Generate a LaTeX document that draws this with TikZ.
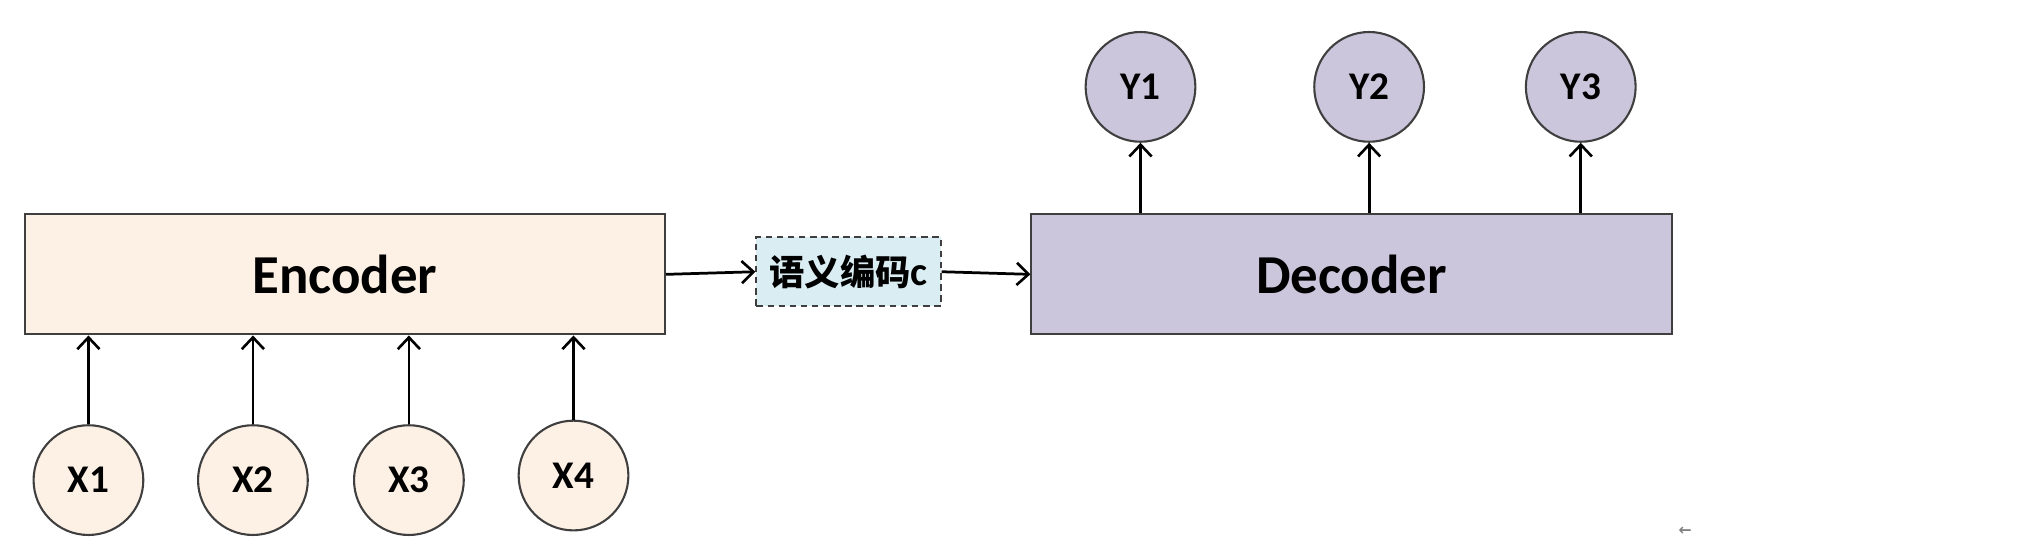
\documentclass[tikz,border=0pt]{standalone}
\usepackage{fontspec}
\setmainfont{Carlito}
\newfontfamily\cjk{Noto Sans CJK SC}
\newfontfamily\sym{DejaVu Sans}
\usepackage{tikz}
\usetikzlibrary{arrows.meta,positioning}
\definecolor{encfill}{HTML}{FDF0E5}
\definecolor{decfill}{HTML}{CCC6DC}
\definecolor{codefill}{HTML}{DAEDF2}
\definecolor{edge}{HTML}{3F3F3F}
\tikzset{
  basic/.style  = {draw=edge, line width=1.6pt, font=\bfseries, inner sep=0pt},
  block/.style  = {basic, rectangle, minimum width=490pt, minimum height=92pt,
                   font=\bfseries\fontsize{42}{44}\selectfont},
  encbox/.style = {block, fill=encfill},
  decbox/.style = {block, fill=decfill},
  codebox/.style = {basic, rectangle, dashed, dash pattern=on 5pt off 3.5pt,
                   fill=codefill, minimum width=141pt, minimum height=53pt,
                   font=\bfseries\fontsize{27}{29}\selectfont},
  token/.style  = {basic, circle, minimum size=84pt,
                   font=\bfseries\fontsize{30}{32}\selectfont},
  input/.style  = {token, fill=encfill},
  output/.style = {token, fill=decfill}
}

\begin{document}
\begin{tikzpicture}[x=1pt,y=-1pt,>={Straight Barb[length=9pt,width=17pt,line width=2pt]},
  link/.style={->,line width=2.1pt,black}]

\useasboundingbox (0,0) rectangle (1560,420);

% encoder side
\node[encbox] (enc) at (264,210) {Encoder};
\node[input] (x1) at (67.7,367.5) {X1};
\node[input] (x2) at (193.6,367.5) {X2};
\node[input] (x3) at (313,367.5) {X3};
\node[input] (x4) at (439,364) {X4};

% semantic code
\node[codebox] (code) at (649.5,208) {{\cjk 语义编码}{\fontsize{31}{31}\selectfont c}};

% decoder side
\node[decbox] (dec) at (1034.5,210) {Decoder};
\node[output] (y1) at (873,66.5) {Y1};
\node[output] (y2) at (1048,66.5) {Y2};
\node[output] (y3) at (1210,66.5) {Y3};

\node[text=gray, font=\sym\bfseries\fontsize{12}{12}\selectfont] (mark) at (1290,407) {←};

\foreach \value in {1,...,4}
  \draw[link] (x\value.north) -- (x\value |- enc.south);
\foreach \value in {1,2,3}
  \draw[link] (y\value |- dec.north) -- (y\value.south);

\draw[link] (enc.east) -- (code.west);
\draw[link] (code.east) -- (dec.west);

\end{tikzpicture}
\end{document}
